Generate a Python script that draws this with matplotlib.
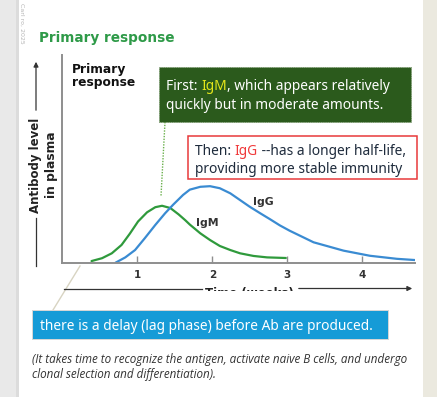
import numpy as np
import matplotlib
matplotlib.use("Agg")
import matplotlib.pyplot as plt
from matplotlib.patches import Rectangle

W, H = 437, 397

# ---- data (weeks, relative antibody level) ----
igm_t = [0.39, 0.53, 0.66, 0.79, 0.90, 1.01, 1.13, 1.24, 1.33, 1.44, 1.55, 1.64, 1.70,
         1.84, 1.97, 2.10, 2.24, 2.37, 2.55, 2.73, 2.98]
igm_y = [0.011, 0.025, 0.049, 0.090, 0.145, 0.205, 0.250, 0.275, 0.282, 0.271, 0.240, 0.211, 0.190,
         0.147, 0.114, 0.085, 0.065, 0.049, 0.036, 0.029, 0.026]

igg_t = [0.71, 0.84, 0.97, 1.10, 1.24, 1.37, 1.48, 1.61, 1.70, 1.84, 1.97, 2.10, 2.24, 2.37,
         2.50, 2.64, 2.77, 2.90, 3.03, 3.35, 3.75, 4.10, 4.46, 4.70]
igg_y = [0.003, 0.029, 0.065, 0.123, 0.188, 0.245, 0.288, 0.335, 0.361, 0.375, 0.378, 0.368, 0.343, 0.310,
         0.277, 0.245, 0.216, 0.186, 0.160, 0.103, 0.062, 0.037, 0.022, 0.016]

week_ticks = [1, 2, 3, 4]
week_labels = ["1", "2", "3", "4"]

GREEN = "#2f9a3c"
BLUE = "#3a8bd2"
AXGRAY = "#8e8e8e"
BOLD = dict(fontfamily="DejaVu Sans", fontweight="bold")

fig = plt.figure(figsize=(W / 100, H / 100), dpi=100)
fig.patch.set_facecolor("white")

# overlay axes in pixel coordinates (y downwards)
ov = fig.add_axes([0, 0, 1, 1], zorder=0)
ov.set_xlim(0, W)
ov.set_ylim(H, 0)
ov.axis("off")

# page background strips
ov.add_patch(Rectangle((0, 0), 18, H, color="#e9e9e9", lw=0))
ov.add_patch(Rectangle((16, 0), 2.5, H, color="#dcdcdc", lw=0))
ov.add_patch(Rectangle((423, 0), W - 423, H, color="#ebe9df", lw=0))
ov.text(22, 3, "Carl ro, 2025", rotation=-90, fontsize=4.5, color="#b5b5b5",
        ha="center", va="top")

# main chart axes
x0_px, x1_px, y0_px, ytop_px = 62.3, 415, 263.3, 55
ax = fig.add_axes([x0_px / W, 1 - y0_px / H, (x1_px - x0_px) / W, (y0_px - ytop_px) / H], zorder=2)
ax.patch.set_alpha(0)
ax.set_xlim(0, (x1_px - x0_px) / 75)
ax.set_ylim(0, (y0_px - ytop_px) / 204)
ax.plot(igm_t, igm_y, color=GREEN, lw=1.6, solid_capstyle="round", solid_joinstyle="round")
ax.plot(igg_t, igg_y, color=BLUE, lw=1.6, solid_capstyle="round", solid_joinstyle="round")
for s in ["top", "right"]:
    ax.spines[s].set_visible(False)
for s in ["left", "bottom"]:
    ax.spines[s].set_color(AXGRAY)
    ax.spines[s].set_linewidth(1.4)
ax.set_yticks([])
ax.set_xticks(week_ticks)
ax.set_xticklabels(week_labels, fontsize=7.5, color="#333333", **BOLD)
ax.tick_params(axis="x", direction="in", length=5, width=1, color=AXGRAY, pad=5)

ax.text(1.94, 0.20, "IgM", fontsize=7.8, color="#333333", ha="center", va="center", **BOLD)
ax.text(2.68, 0.30, "IgG", fontsize=7.8, color="#333333", ha="center", va="center", **BOLD)

# title
ov.text(39, 38, "Primary response", fontsize=9.8, color="#2e9a48", ha="left", va="center", **BOLD)
ov.text(72, 76, "Primary\nresponse", fontsize=8.8, color="#111111", ha="left", va="center",
        linespacing=0.95, **BOLD)

# y label with arrow
ov.text(36, 165, "Antibody level", rotation=90, fontsize=8.5, color="#222222",
        ha="center", va="center", **BOLD)
ov.text(52, 165, "in plasma", rotation=90, fontsize=8.8, color="#222222",
        ha="center", va="center", **BOLD)
ov.annotate("", xy=(36, 59), xytext=(36, 113),
            arrowprops=dict(arrowstyle="-|>", color="#333333", lw=0.9, mutation_scale=7))
ov.plot([36, 36], [218, 266], color="#333333", lw=0.9)

# x label with arrow (cropped in the original)
ov.plot([64, 202], [288.5, 288.5], color="#333333", lw=0.9)
ov.annotate("", xy=(415, 288.5), xytext=(296, 288.5),
            arrowprops=dict(arrowstyle="-|>", color="#333333", lw=0.9, mutation_scale=7))
ov.text(249, 293, "Time (weeks)", fontsize=8.5, color="#222222", ha="center", va="center", **BOLD)
ov.add_patch(Rectangle((150, 291), 150, 15, color="white", lw=0, zorder=3))

# callout pointer to the lag phase
ov.plot([80, 53], [266, 310], color="#d8d4c2", lw=1, zorder=1)


def rich_text(x, y, pieces, **kw):
    prev = None
    for s, c in pieces:
        if prev is None:
            prev = ov.text(x, y, s, color=c, ha="left", va="baseline", zorder=6, **kw)
        else:
            prev = ov.annotate(s, xycoords=prev, xy=(1, 0), va="bottom", ha="left",
                               color=c, zorder=6, **kw)
    return prev


BOXFONT = dict(fontfamily="Noto Sans", fontsize=9.9)

# green box
ov.add_patch(Rectangle((159, 67), 252, 55, facecolor="#2b5a1c", edgecolor="#6c8f5c",
                       lw=0.6, ls=":", zorder=5))
rich_text(166, 90, [("First: ", "white"), ("IgM", "#e4e61a"),
                    (", which appears relatively", "white")], **BOXFONT)
rich_text(166, 109, [("quickly but in moderate amounts.", "white")], **BOXFONT)
ov.plot([165, 161], [122, 196], color="#6ab04c", lw=1, ls=(0, (1, 1)), zorder=4)

# red box
ov.add_patch(Rectangle((188, 136), 229, 43, facecolor="white", edgecolor="#e8393a",
                       lw=1.1, zorder=5))
rich_text(195, 155, [("Then: ", "#1e2b3c"), ("IgG", "#f0393a"),
                     (" --has a longer half-life,", "#1e2b3c")], **BOXFONT)
rich_text(195, 173, [("providing more stable immunity", "#1e2b3c")], **BOXFONT)

# blue box
ov.add_patch(Rectangle((32, 310), 357, 30, facecolor="#d6d6d6", lw=0, zorder=4))
ov.add_patch(Rectangle((33, 311), 355, 28, facecolor="#169bd7", lw=0, zorder=5))
ov.text(40, 330, "there is a delay (lag phase) before Ab are produced.", color="white",
        ha="left", va="baseline", zorder=6, fontfamily="Noto Sans", fontsize=9.9)

# note
ov.text(32, 353, "(It takes time to recognize the antigen, activate naive B cells, and undergo\n"
        "clonal selection and differentiation).", fontfamily="Open Sans", style="italic",
        fontsize=8.35, color="#333333", ha="left", va="top", linespacing=1.2)

fig.savefig("out.png", dpi=100)
